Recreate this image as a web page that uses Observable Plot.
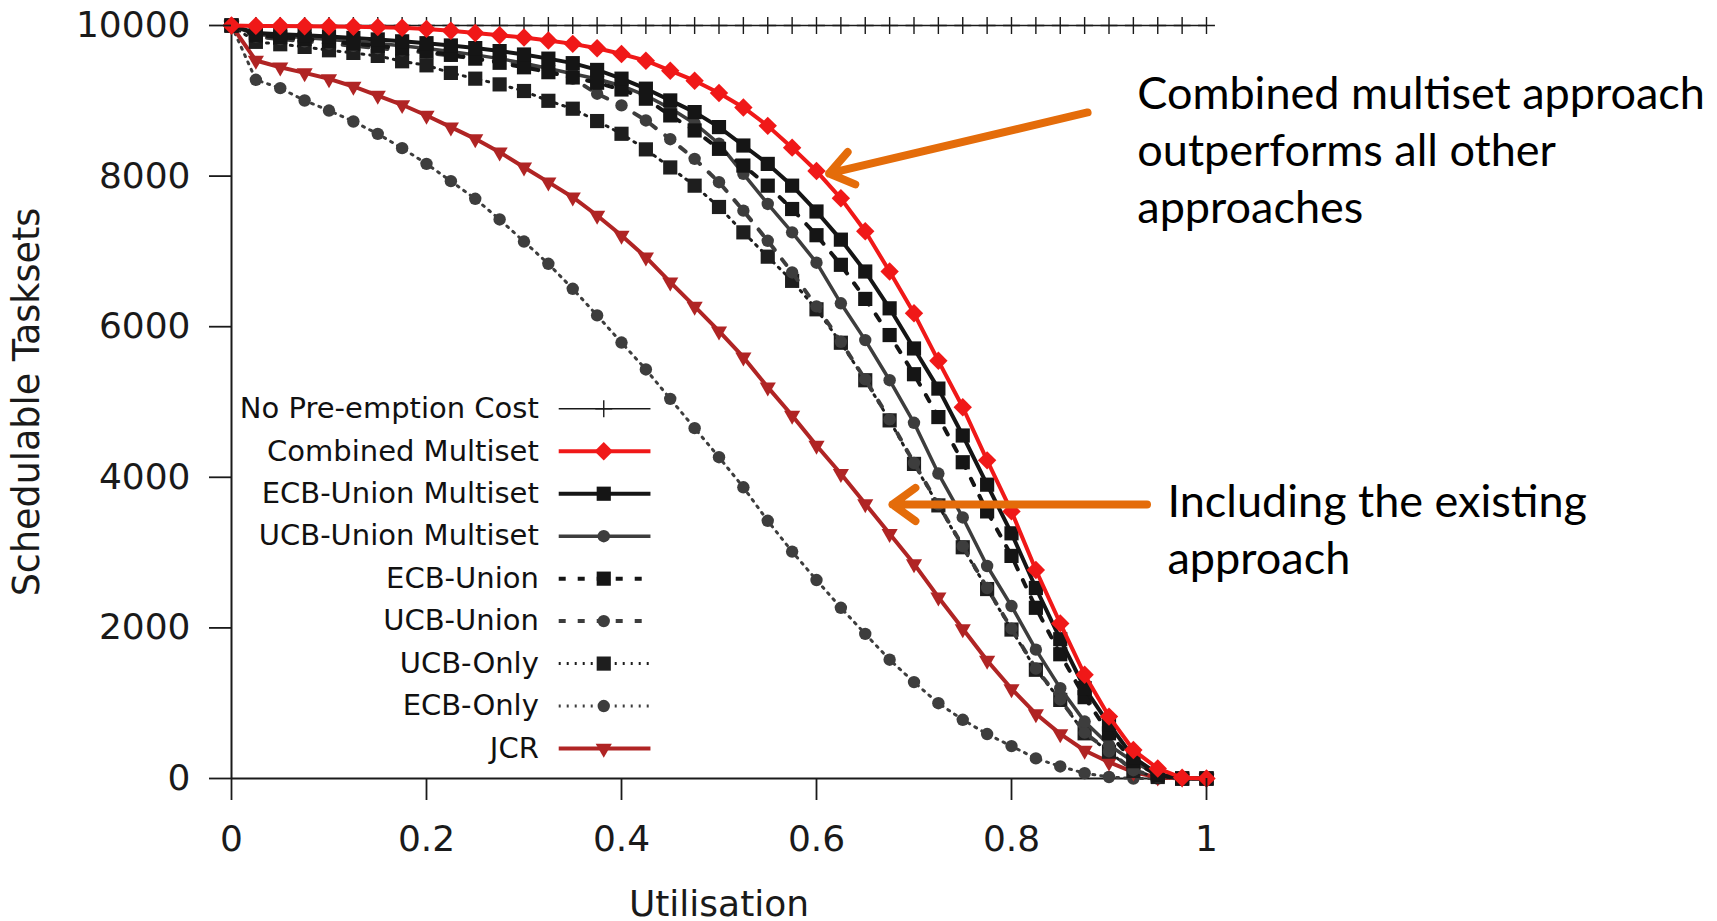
<!DOCTYPE html>
<html>
<head>
<meta charset="utf-8">
<script src="https://cdn.jsdelivr.net/npm/d3@7"></script>
<script src="https://cdn.jsdelivr.net/npm/@observablehq/plot@0.6"></script>
<style>
  html, body { margin: 0; padding: 0; background: #ffffff; }
  #chart { width: 1717px; height: 921px; }
</style>
</head>
<body>
<div id="chart"></div>
<script>
// ---------- data ----------
const utilisation = [0, 0.025, 0.05, 0.075, 0.1, 0.125, 0.15, 0.175, 0.2, 0.225, 0.25, 0.275, 0.3, 0.325, 0.35, 0.375, 0.4, 0.425, 0.45, 0.475, 0.5, 0.525, 0.55, 0.575, 0.6, 0.625, 0.65, 0.675, 0.7, 0.725, 0.75, 0.775, 0.8, 0.825, 0.85, 0.875, 0.9, 0.925, 0.95, 0.975, 1];

const noPreemptionCost = [10000, 10000, 10000, 10000, 10000, 10000, 10000, 10000, 10000, 10000, 10000, 10000, 10000, 10000, 10000, 10000, 10000, 10000, 10000, 10000, 10000, 10000, 10000, 10000, 10000, 10000, 10000, 10000, 10000, 10000, 10000, 10000, 10000, 10000, 10000, 10000, 10000, 10000, 10000, 10000, 10000];
const combinedMultiset = [10000, 9995, 9993, 9990, 9987, 9983, 9978, 9970, 9955, 9930, 9900, 9870, 9840, 9800, 9756, 9698, 9622, 9533, 9400, 9267, 9103, 8912, 8667, 8378, 8067, 7705, 7267, 6733, 6178, 5547, 4930, 4225, 3547, 2769, 2060, 1378, 822, 378, 133, 10, 0];
const ecbUnionMultiset = [10000, 9900, 9885, 9870, 9855, 9835, 9815, 9790, 9765, 9735, 9700, 9660, 9615, 9560, 9500, 9410, 9294, 9161, 9005, 8850, 8651, 8406, 8162, 7873, 7530, 7156, 6733, 6244, 5711, 5178, 4555, 3902, 3256, 2530, 1850, 1200, 720, 280, 60, 0, 0];
const ucbUnionMultiset = [10000, 9880, 9860, 9840, 9815, 9790, 9760, 9730, 9695, 9655, 9610, 9560, 9500, 9430, 9360, 9290, 9200, 9070, 8900, 8700, 8430, 8029, 7630, 7253, 6850, 6311, 5822, 5289, 4724, 4050, 3467, 2822, 2290, 1711, 1200, 756, 444, 222, 50, 0, 0];
const ecbUnion = [10000, 9870, 9845, 9820, 9790, 9760, 9730, 9695, 9655, 9610, 9560, 9505, 9445, 9380, 9310, 9240, 9150, 9028, 8806, 8606, 8362, 8140, 7873, 7563, 7215, 6822, 6369, 5889, 5369, 4800, 4200, 3547, 2956, 2267, 1650, 1080, 600, 230, 40, 0, 0];
const ucbUnion = [10000, 9850, 9820, 9790, 9760, 9730, 9700, 9670, 9640, 9600, 9560, 9520, 9480, 9400, 9294, 9094, 8939, 8739, 8490, 8229, 7919, 7541, 7141, 6720, 6270, 5800, 5300, 4770, 4190, 3640, 3085, 2530, 1990, 1460, 1050, 610, 360, 110, 20, 0, 0];
const ucbOnly = [10000, 9783, 9751, 9716, 9671, 9636, 9596, 9525, 9471, 9370, 9294, 9218, 9130, 9000, 8895, 8731, 8562, 8355, 8115, 7873, 7590, 7253, 6930, 6609, 6231, 5787, 5289, 4756, 4178, 3627, 3071, 2516, 1978, 1444, 1044, 600, 356, 100, 20, 0, 0];
const ecbOnly = [10000, 9279, 9168, 9004, 8871, 8725, 8561, 8371, 8163, 7933, 7699, 7424, 7131, 6835, 6503, 6150, 5790, 5432, 5042, 4653, 4267, 3867, 3422, 3013, 2636, 2267, 1920, 1578, 1280, 1000, 780, 590, 430, 267, 160, 70, 20, 0, 0, 0, 0];
const jcr = [10000, 9535, 9446, 9371, 9292, 9190, 9070, 8947, 8805, 8650, 8495, 8318, 8118, 7920, 7720, 7477, 7211, 6923, 6591, 6270, 5940, 5595, 5197, 4821, 4422, 4047, 3648, 3250, 2851, 2408, 1988, 1567, 1191, 859, 593, 372, 217, 84, 17, 0, 0];

const seriesNames = ["No Pre-emption Cost", "Combined Multiset", "ECB-Union Multiset", "UCB-Union Multiset", "ECB-Union", "UCB-Union", "UCB-Only", "ECB-Only", "JCR"];
const seriesValues = [noPreemptionCost, combinedMultiset, ecbUnionMultiset, ucbUnionMultiset, ecbUnion, ucbUnion, ucbOnly, ecbOnly, jcr];

const xTicks = [0, 0.2, 0.4, 0.6, 0.8, 1];
const yTicks = [0, 2000, 4000, 6000, 8000, 10000];

const xLabel = "Utilisation";
const yLabel = "Schedulable Tasksets";

const annotationTexts = ["Combined multiset approach\noutperforms all other\napproaches", "Including the existing\napproach"];
const annotationTextX = [0.929, 0.960];
const annotationTextY = [8380, 3333];
const arrowFromX = [0.878, 0.939];
const arrowFromY = [8845, 3639];
const arrowToX = [0.613, 0.678];
const arrowToY = [8035, 3639];

// ---------- styles ----------
const styles = {
  "No Pre-emption Cost": {stroke: "#1a1a1a", width: 1.4, dash: null, symbol: "plus", r: 5.5, fill: "none", mStroke: "#1a1a1a", mWidth: 1.4},
  "Combined Multiset":   {stroke: "#f01818", width: 4, dash: null, symbol: "diamond2", r: 8.3, fill: "#f01818"},
  "ECB-Union Multiset":  {stroke: "#151515", width: 4, dash: null, symbol: "square", r: 8, fill: "#151515"},
  "UCB-Union Multiset":  {stroke: "#3d3d3d", width: 3.5, dash: null, symbol: "circle", r: 6.2, fill: "#3d3d3d"},
  "ECB-Union":           {stroke: "#151515", width: 4, dash: "7,12", symbol: "square", r: 8, fill: "#151515"},
  "UCB-Union":           {stroke: "#3d3d3d", width: 4, dash: "7,12", symbol: "circle", r: 6.2, fill: "#3d3d3d"},
  "UCB-Only":            {stroke: "#1e1e1e", width: 3, dash: "2,6", symbol: "square", r: 8, fill: "#1e1e1e"},
  "ECB-Only":            {stroke: "#3d3d3d", width: 3, dash: "2,6", symbol: "circle", r: 6.2, fill: "#3d3d3d"},
  "JCR":                 {stroke: "#b02424", width: 4, dash: null, symbol: "triangle", r: 6, fill: "#b02424", rotate: 180}
};
const drawOrder = ["No Pre-emption Cost", "ECB-Only", "JCR", "UCB-Only", "UCB-Union", "UCB-Union Multiset", "ECB-Union", "ECB-Union Multiset", "Combined Multiset"];

// legend layout (data units inside the plot frame)
const legendLayout = {textRight: 0.3152, lineStart: 0.3356, marker: 0.3818, lineEnd: 0.4297, top: 4910, step: 564};

// ---------- build ----------
const rowsFor = name => {
  const vals = seriesValues[seriesNames.indexOf(name)];
  return utilisation.map((u, i) => ({u, v: vals[i]}));
};

const marks = [];

// axis frame lines
marks.push(Plot.ruleX([0], {stroke: "#1a1a1a", strokeWidth: 2}));
marks.push(Plot.ruleY([0], {stroke: "#1a1a1a", strokeWidth: 2}));

for (const name of drawOrder) {
  const s = styles[name];
  const rows = rowsFor(name);
  marks.push(Plot.line(rows, {x: "u", y: "v", stroke: s.stroke, strokeWidth: s.width, strokeDasharray: s.dash || undefined, strokeLinejoin: "round"}));
  marks.push(Plot.dot(rows, {
    x: "u", y: "v", symbol: s.symbol, r: s.r,
    fill: s.fill, stroke: s.mStroke || "none", strokeWidth: s.mWidth || 0,
    rotate: s.rotate || 0
  }));
}

// legend
const legendRows = seriesNames.map((name, i) => ({name, y: legendLayout.top - i * legendLayout.step}));
marks.push(Plot.text(legendRows, {x: () => legendLayout.textRight, y: "y", text: "name", textAnchor: "end", fontSize: 29, fill: "#111"}));
for (const row of legendRows) {
  const s = styles[row.name];
  marks.push(Plot.link([row], {x1: () => legendLayout.lineStart, x2: () => legendLayout.lineEnd, y1: "y", y2: "y", stroke: s.stroke, strokeWidth: s.width, strokeDasharray: s.dash || undefined}));
  marks.push(Plot.dot([row], {x: () => legendLayout.marker, y: "y", symbol: s.symbol, r: s.r, fill: s.fill, stroke: s.mStroke || "none", strokeWidth: s.mWidth || 0, rotate: s.rotate || 0}));
}

// annotations
const arrows = arrowFromX.map((x1, i) => ({x1, y1: arrowFromY[i], x2: arrowToX[i], y2: arrowToY[i]}));
marks.push(Plot.arrow(arrows, {x1: "x1", y1: "y1", x2: "x2", y2: "y2", stroke: "#e46c0a", strokeWidth: 8, headLength: 5.3, headAngle: 72, strokeLinecap: "round", strokeLinejoin: "round"}));
const notes = annotationTexts.map((t, i) => ({t, x: annotationTextX[i], y: annotationTextY[i]}));
marks.push(Plot.text(notes, {x: "x", y: "y", text: "t", textAnchor: "start", lineAnchor: "middle", lineHeight: 1.27, fontSize: 45, fontFamily: "Lato", fill: "#000"}));

// axes
marks.push(Plot.axisX({ticks: xTicks, tickSize: 22, tickPadding: 25, tickFormat: d => String(d), label: null, fontSize: 36, strokeWidth: 1.8, color: "#1a1a1a"}));
marks.push(Plot.axisY({ticks: yTicks, tickSize: 22, tickPadding: 19, tickFormat: d => String(d), label: null, fontSize: 36, strokeWidth: 1.8, color: "#1a1a1a"}));
marks.push(Plot.text([yLabel], {frameAnchor: "left", dx: -204, rotate: -90, textAnchor: "middle", lineAnchor: "middle", fontSize: 36.5, fill: "#1a1a1a"}));
marks.push(Plot.text([xLabel], {frameAnchor: "bottom", dy: 126, textAnchor: "middle", lineAnchor: "middle", fontSize: 36, fill: "#1a1a1a"}));

const chart = Plot.plot({
  width: 1717,
  height: 921,
  marginLeft: 231,
  marginRight: 511,
  marginTop: 25,
  marginBottom: 143,
  x: {domain: [0, 1]},
  y: {domain: [0, 10000]},
  style: {fontFamily: "DejaVu Sans", fontSize: "36px", background: "#ffffff", color: "#1a1a1a", overflow: "visible"},
  marks
});
document.getElementById("chart").appendChild(chart);
</script>
</body>
</html>
